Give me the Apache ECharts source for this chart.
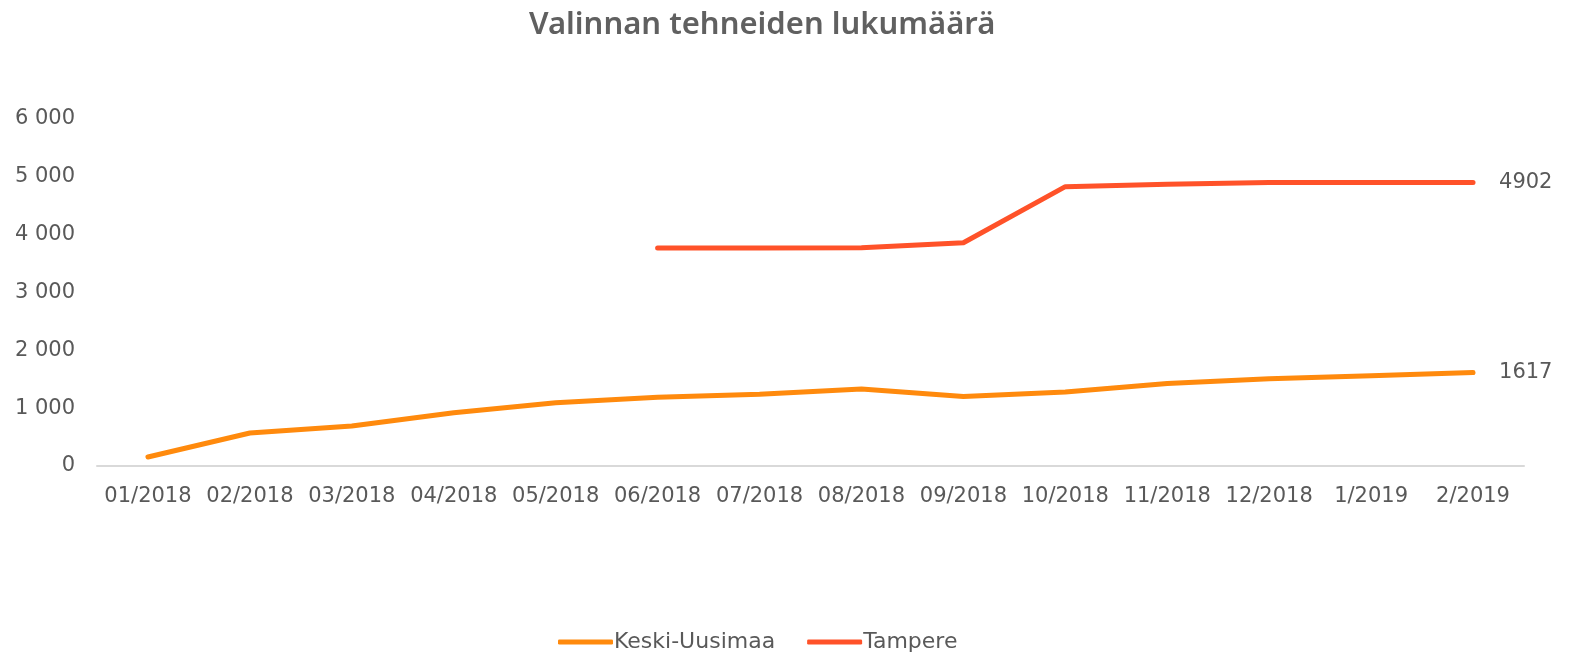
<!DOCTYPE html>
<html>
<head>
<meta charset="utf-8">
<script src="https://cdn.jsdelivr.net/npm/echarts@6/dist/echarts.min.js"></script>
<style>
  html, body { margin: 0; padding: 0; background: #fff; }
  #chart { width: 1574px; height: 654px; }
</style>
</head>
<body>
<div id="chart"></div>
<script>
  // kuukaudet
  const months = ['01/2018', '02/2018', '03/2018', '04/2018', '05/2018', '06/2018', '07/2018',
    '08/2018', '09/2018', '10/2018', '11/2018', '12/2018', '1/2019', '2/2019']
  const keskiUusimaa = [155, 570, 690, 920, 1095, 1190, 1240, 1330, 1200, 1280, 1425, 1510, 1560, 1617]
  const tampere = [null, null, null, null, null, 3770, 3770, 3775, 3860, 4830, 4870, 4900, 4902, 4902]
  const seriesNames = ['Keski-Uusimaa', 'Tampere']

  const textColor = '#595959'
  const font = 'DejaVu Sans'

  const chart = echarts.init(document.getElementById('chart'))
  const lineSeries = (name, data, color) => ({
    name: name,
    type: 'line',
    data: data,
    symbol: 'none',
    connectNulls: false,
    lineStyle: { width: 5, color: color, cap: 'round', join: 'round' },
    itemStyle: { color: color },
    endLabel: {
      show: true,
      distance: 26,
      color: textColor,
      fontFamily: font,
      fontSize: 21,
      formatter: p => String(p.value)
    }
  })

  const option = {
    animation: false,
    title: {
      text: 'Valinnan tehneiden lukumäärä',
      left: 524,
      top: 5,
      textStyle: { color: '#606060', fontFamily: 'Noto Sans', fontSize: 31, fontWeight: 600 }
    },
    grid: { left: 97, right: 50, top: 119, bottom: 188 },
    legend: {
      data: seriesNames,
      left: 553,
      top: 626,
      itemWidth: 55,
      itemHeight: 5,
      itemGap: 32,
      icon: 'roundRect',
      textStyle: { color: textColor, fontFamily: font, fontSize: 22, padding: [0, 0, 0, -4] }
    },
    xAxis: {
      type: 'category',
      data: months,
      boundaryGap: true,
      axisTick: { show: false },
      axisLine: { lineStyle: { color: '#d9d9d9', width: 2 } },
      axisLabel: { interval: 0, margin: 20, color: textColor, fontFamily: font, fontSize: 21 }
    },
    yAxis: {
      type: 'value',
      min: 0,
      max: 6000,
      interval: 1000,
      splitLine: { show: false },
      axisLine: { show: false },
      axisTick: { show: false },
      axisLabel: {
        margin: 22,
        color: textColor,
        fontFamily: font,
        fontSize: 21,
        formatter: v => v >= 1000 ? Math.floor(v / 1000) + ' ' + String(v % 1000).padStart(3, '0') : String(v)
      }
    },
    series: [
      lineSeries(seriesNames[0], keskiUusimaa, '#FF8A0D'),
      lineSeries(seriesNames[1], tampere, '#FF5229')
    ]
  }
  chart.setOption(option)
</script>
</body>
</html>
